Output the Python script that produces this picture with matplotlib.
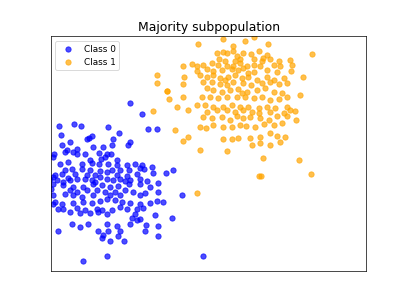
import matplotlib
matplotlib.use("Agg")
import matplotlib.pyplot as plt

# class 0 (blue blob, lower left)
class0_x = [2.70, 3.05, 1.02, 0.58, 1.22, 2.05, 3.25, 3.50, 0.62, 2.36, 1.55, 1.48, 1.40, 2.20, 0.90,
            0.65, 1.60, 1.90, 2.16, 2.70, 2.65, 1.10, 0.82, 0.42, 0.75, 1.00, 1.10, 1.35, 1.76, 2.00,
            2.12, 1.95, 1.82, 1.50, 2.30, 0.40, 0.60, 0.85, 1.25, 1.55, 1.78, 2.05, 2.30, 2.62, 2.85,
            3.05, 3.35, 0.95, 0.75, 1.25, 1.50, 1.80, 2.00, 2.15, 2.40, 2.68, 3.00, 3.12, 3.38, 3.78,
            3.98, 0.45, 0.65, 1.05, 1.40, 1.65, 2.30, 2.62, 2.90, 0.38, 0.50, 0.68, 0.90, 1.10, 1.35,
            1.55, 1.80, 2.00, 2.20, 2.40, 2.70, 3.00, 3.20, 3.55, 0.40, 0.70, 1.00, 1.30, 1.60, 1.85,
            2.10, 2.35, 2.68, 3.00, 3.30, 0.90, 1.10, 1.40, 1.70, 1.95, 2.25, 2.55, 2.80, 3.15, 3.55,
            0.75, 1.00, 1.25, 1.60, 2.10, 2.40, 3.00, 4.25, 0.38, 0.45, 0.65, 1.00, 1.30, 1.55, 1.80,
            2.00, 2.25, 2.45, 2.70, 3.00, 3.30, 3.50, 3.68, 0.40, 0.55, 0.70, 1.10, 1.35, 1.70, 1.85,
            2.15, 2.40, 2.60, 2.92, 3.10, 0.90, 1.20, 1.50, 1.75, 2.00, 2.85, 3.45, 2.75, 3.00, 2.90,
            3.95, 0.95, 1.20, 1.45, 2.00, 2.30, 2.70, 3.18, 3.15, 3.55, 0.55, 1.75, 2.05, 2.40, 3.55,
            1.90, 1.85, 2.10, 2.35, 2.52, 1.30, 2.00, 4.88, 0.30, 0.32, 0.85, 1.65, 2.55]
class0_y = [5.22, 4.87, 4.58, 4.52, 4.51, 4.49, 4.43, 4.44, 4.25, 4.30, 4.23, 4.17, 4.12, 4.12, 4.05,
            3.95, 3.90, 3.90, 3.96, 4.04, 3.95, 3.85, 3.80, 3.70, 3.75, 3.75, 3.68, 3.68, 3.72, 3.68,
            3.70, 3.60, 3.55, 3.50, 3.52, 3.60, 3.40, 3.45, 3.40, 3.42, 3.38, 3.40, 3.35, 3.35, 3.40,
            3.35, 3.30, 3.25, 3.22, 3.25, 3.22, 3.18, 3.15, 3.20, 3.22, 3.22, 3.28, 3.25, 3.12, 3.12,
            3.20, 3.05, 3.10, 3.10, 3.05, 3.05, 3.05, 3.02, 3.08, 3.00, 2.90, 2.85, 2.90, 2.95, 2.95,
            2.90, 3.00, 2.95, 2.90, 2.95, 2.90, 2.95, 2.88, 2.82, 2.80, 2.75, 2.70, 2.70, 2.78, 2.75,
            2.70, 2.72, 2.78, 2.80, 2.70, 2.60, 2.55, 2.60, 2.60, 2.55, 2.55, 2.60, 2.55, 2.52, 2.55,
            2.50, 2.45, 2.40, 2.45, 2.45, 2.45, 2.45, 2.45, 2.45, 2.25, 2.20, 2.22, 2.25, 2.22, 2.28,
            2.35, 2.30, 2.25, 2.22, 2.20, 2.22, 2.28, 2.25, 2.18, 2.05, 2.05, 2.08, 2.00, 2.05, 2.00,
            2.02, 2.10, 2.05, 2.05, 2.08, 1.95, 1.92, 1.92, 1.95, 1.90, 1.90, 1.85, 1.78, 1.75, 1.72,
            1.78, 1.60, 1.50, 1.60, 1.60, 1.55, 1.60, 1.58, 1.40, 1.55, 1.40, 1.40, 1.40, 1.38, 1.25,
            1.28, 1.18, 1.10, 1.25, 1.10, 0.48, 0.64, 0.65, 2.95, 2.65, 2.98, 2.85, 2.88]

# class 1 (orange blob, upper right)
class1_x = [5.48, 6.40, 6.14, 4.75, 5.78, 6.82, 5.30, 5.48, 5.60, 5.80, 6.08, 6.32, 6.55, 6.80, 6.90,
            7.15, 7.50, 8.16, 5.37, 5.55, 5.85, 6.00, 6.40, 6.65, 6.68, 4.55, 4.70, 4.90, 5.15, 5.35,
            5.60, 5.80, 6.00, 6.20, 6.40, 6.60, 7.00, 7.20, 7.55, 4.28, 4.70, 5.00, 5.20, 5.45, 5.75,
            5.95, 6.10, 6.40, 6.80, 7.10, 7.52, 3.52, 4.32, 4.80, 5.00, 5.20, 5.40, 5.65, 5.85, 6.05,
            6.25, 6.50, 6.80, 7.00, 7.30, 7.87, 3.50, 4.30, 4.90, 5.15, 5.40, 5.60, 5.80, 6.10, 6.32,
            6.65, 6.90, 7.15, 7.40, 3.82, 3.82, 5.00, 5.20, 5.45, 5.70, 5.95, 6.20, 6.50, 6.75, 7.00,
            7.25, 7.40, 7.80, 3.88, 4.30, 4.85, 5.10, 5.35, 5.60, 5.90, 6.15, 6.40, 6.65, 6.90, 7.15,
            4.10, 4.70, 4.95, 5.20, 5.50, 5.75, 6.00, 6.25, 6.55, 6.80, 7.05, 7.40, 7.48, 7.65, 3.38,
            4.45, 5.00, 5.30, 5.60, 5.85, 6.10, 6.35, 6.55, 6.90, 7.30, 4.90, 5.15, 5.45, 5.70, 5.90,
            6.10, 6.30, 6.60, 6.85, 7.10, 7.40, 7.68, 5.20, 5.48, 5.75, 6.00, 6.18, 6.45, 6.70, 7.00,
            7.25, 4.80, 4.98, 4.05, 4.45, 4.28, 5.50, 5.75, 5.95, 6.30, 6.60, 6.90, 7.10, 7.35, 6.35,
            6.58, 6.90, 7.18, 4.80, 5.60, 6.68, 7.75, 6.55, 6.62, 8.12, 4.70, 5.90, 6.25, 6.05, 5.55]
class1_y = [7.13, 7.18, 7.07, 6.97, 6.92, 6.96, 6.70, 6.73, 6.70, 6.75, 6.70, 6.68, 6.75, 6.65, 6.52,
            6.45, 6.48, 6.67, 6.52, 6.45, 6.45, 6.52, 6.52, 6.45, 6.55, 6.37, 6.30, 6.35, 6.40, 6.35,
            6.32, 6.32, 6.40, 6.32, 6.35, 6.32, 6.35, 6.30, 6.35, 6.30, 6.17, 6.22, 6.18, 6.20, 6.22,
            6.20, 6.25, 6.15, 6.20, 6.15, 6.18, 6.05, 5.98, 6.05, 6.00, 6.05, 5.95, 6.00, 6.05, 5.95,
            6.00, 5.90, 6.00, 5.90, 5.95, 6.00, 5.80, 5.78, 5.85, 5.85, 5.78, 5.75, 5.85, 5.80, 5.75,
            5.82, 5.85, 5.78, 5.82, 5.58, 5.58, 5.65, 5.60, 5.55, 5.60, 5.62, 5.55, 5.60, 5.65, 5.55,
            5.50, 5.40, 5.45, 5.32, 5.40, 5.38, 5.40, 5.35, 5.38, 5.40, 5.38, 5.35, 5.38, 5.30, 5.32,
            5.08, 5.15, 5.15, 5.10, 5.10, 5.15, 5.10, 5.08, 5.05, 5.10, 5.05, 5.10, 5.00, 4.98, 4.98,
            5.00, 4.95, 5.00, 5.00, 4.95, 5.00, 4.95, 4.90, 4.95, 4.90, 4.80, 4.75, 4.80, 4.70, 4.82,
            4.75, 4.78, 4.75, 4.70, 4.82, 4.82, 4.70, 4.55, 4.50, 4.48, 4.55, 4.52, 4.50, 4.58, 4.55,
            4.60, 4.48, 4.45, 4.40, 4.18, 4.07, 4.12, 4.12, 4.15, 4.15, 4.20, 4.30, 4.22, 4.18, 3.95,
            4.02, 3.95, 4.05, 3.80, 3.77, 3.58, 3.50, 3.02, 3.03, 3.08, 2.53, 6.60, 6.10, 5.50, 5.90]

fig, ax = plt.subplots(figsize=(6.4, 4.8), dpi=63.6)
ax.scatter(class0_x, class0_y, color='blue', alpha=0.7, label='Class 0')
ax.scatter(class1_x, class1_y, color='orange', alpha=0.7, label='Class 1')
ax.set_xlim(0.33, 9.78)
ax.set_ylim(0.18, 7.20)
ax.set_xticks([])
ax.set_yticks([])
ax.set_title('Majority subpopulation', fontsize=14)
ax.legend(loc='upper left')
plt.savefig('out.png')
